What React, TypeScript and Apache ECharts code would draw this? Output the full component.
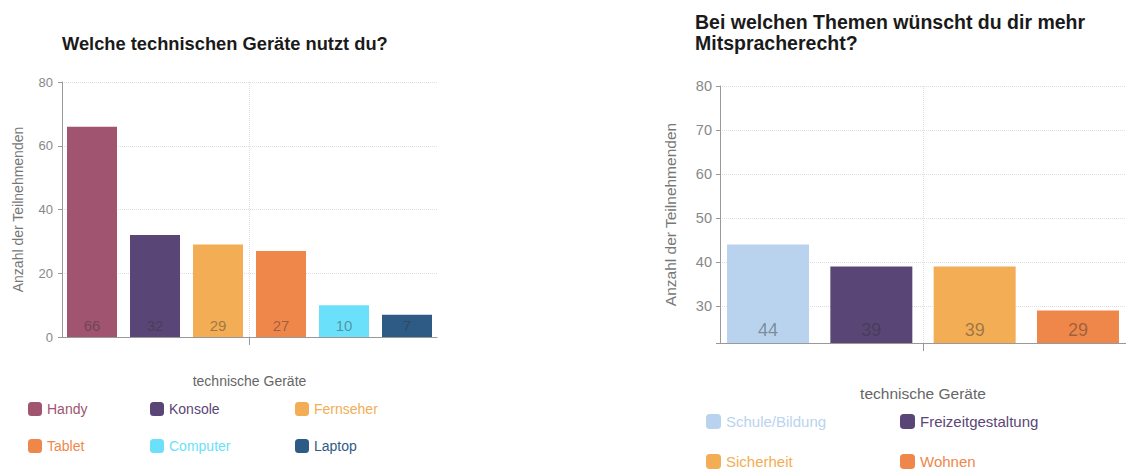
import React, { useEffect, useRef } from 'react';
import * as echarts from 'echarts';

const leftTitle = 'Welche technischen Geräte nutzt du?';
const rightTitle = 'Bei welchen Themen wünscht du dir mehr\nMitspracherecht?';
const axisCategory = 'technische Geräte';
const yAxisName = 'Anzahl der Teilnehmenden';

const deviceNames = ['Handy', 'Konsole', 'Fernseher', 'Tablet', 'Computer', 'Laptop'];
const deviceValues = [66, 32, 29, 27, 10, 7];
const deviceColors = ['#a05470', '#5a4676', '#f2ad55', '#f0874a', '#6ae0fa', '#2e5b85'];

const topicNames = ['Schule/Bildung', 'Freizeitgestaltung', 'Sicherheit', 'Wohnen'];
const topicValues = [44, 39, 39, 29];
const topicColors = ['#b9d3ee', '#5a4676', '#f2ad55', '#f0874a'];

const leftYMin = 0;
const leftYMax = 80;
const leftYInterval = 20;
const rightYMin = 21.6;
const rightYMax = 80;

const FONT = '"Liberation Sans", Arial, Helvetica, sans-serif';
const LABEL_COLOR = 'rgba(50,50,50,0.45)';

export default function App() {
  const ref = useRef<HTMLDivElement>(null);

  useEffect(() => {
    if (!ref.current) return;
    const chart = echarts.init(ref.current, undefined, { renderer: 'svg' });

    const axisLineStyle = { color: '#999999', width: 1 };
    const splitStyle = { type: 'dotted' as const, color: '#dedede', width: 1 };

    const makeSeries = (
      names: string[], values: number[], colors: string[], gi: number,
      barWidth: number, labelSize: number
    ) =>
      names.map((n, i) => ({
        type: 'bar',
        name: n,
        xAxisIndex: gi,
        yAxisIndex: gi,
        data: [values[i]],
        barWidth,
        barGap: '26%',
        itemStyle: { color: colors[i] },
        label: {
          show: true,
          position: 'insideBottom',
          distance: 4,
          color: LABEL_COLOR,
          fontSize: labelSize,
          fontFamily: FONT,
        },
      }));

    const centerLine = (gi: number) => ({
      type: 'line',
      xAxisIndex: gi,
      yAxisIndex: gi,
      data: [],
      silent: true,
      symbol: 'none',
      z: 1,
      markLine: {
        silent: true,
        symbol: 'none',
        label: { show: false },
        lineStyle: { type: 'dotted', color: '#dedede', width: 1 },
        data: [{ xAxis: axisCategory }],
      },
    });

    const legends: any[] = [];
    const leftCols = [28, 150, 295];
    const leftRows = [409, 446];
    deviceNames.forEach((n, i) => {
      legends.push({
        data: [n],
        left: leftCols[i % 3],
        top: leftRows[Math.floor(i / 3)] - 7,
        padding: 0,
        itemWidth: 14,
        itemHeight: 14,
        itemGap: 6,
        icon: 'roundRect',
        selectedMode: false,
        textStyle: { color: deviceColors[i], fontSize: 14, fontFamily: FONT },
      });
    });
    const rightCols = [706, 900];
    const rightRows = [422, 462];
    topicNames.forEach((n, i) => {
      legends.push({
        data: [n],
        left: rightCols[i % 2],
        top: rightRows[Math.floor(i / 2)] - 8,
        padding: 0,
        itemWidth: 15,
        itemHeight: 15,
        itemGap: 6,
        icon: 'roundRect',
        selectedMode: false,
        textStyle: { color: topicColors[i], fontSize: 15, fontFamily: FONT },
      });
    });

    const option: any = {
      animation: false,
      backgroundColor: '#ffffff',
      title: [
        {
          text: leftTitle,
          left: 62,
          top: 34,
          padding: 0,
          textStyle: { fontSize: 18.3, fontWeight: 'bold', color: '#1a1a1a', fontFamily: FONT },
        },
        {
          text: rightTitle,
          left: 695,
          top: 11,
          padding: 0,
          textStyle: { fontSize: 19.5, fontWeight: 'bold', color: '#1a1a1a', fontFamily: FONT, lineHeight: 21 },
        },
      ],
      legend: legends,
      grid: [
        { left: 62, top: 82, width: 375, height: 255, containLabel: false },
        { left: 720, top: 86, width: 412, height: 257, containLabel: false },
      ],
      xAxis: [0, 1].map((gi) => ({
        type: 'category',
        gridIndex: gi,
        data: [axisCategory],
        name: axisCategory,
        nameLocation: 'middle',
        nameGap: gi === 0 ? 37 : 42,
        nameTextStyle: { color: '#666', fontSize: gi === 0 ? 14 : 15.5, fontFamily: FONT },
        axisLine: { show: true, lineStyle: axisLineStyle },
        axisTick: { show: true, alignWithLabel: true, length: 8, lineStyle: axisLineStyle },
        axisLabel: { show: false },
        splitLine: { show: false },
      })),
      yAxis: [
        {
          type: 'value',
          gridIndex: 0,
          min: leftYMin,
          max: leftYMax,
          interval: leftYInterval,
          name: yAxisName,
          nameLocation: 'middle',
          nameGap: 37,
          nameTextStyle: { color: '#777', fontSize: 14, fontFamily: FONT },
          axisLine: { show: true, lineStyle: axisLineStyle },
          axisTick: { show: true, length: 4, lineStyle: axisLineStyle },
          axisLabel: { color: '#888', fontSize: 13, fontFamily: FONT, margin: 9 },
          splitLine: { show: true, lineStyle: splitStyle },
        },
        {
          type: 'value',
          gridIndex: 1,
          min: rightYMin,
          max: rightYMax,
          name: yAxisName,
          nameLocation: 'middle',
          nameGap: 42,
          nameTextStyle: { color: '#777', fontSize: 15.5, fontFamily: FONT },
          axisLine: { show: true, lineStyle: axisLineStyle },
          axisTick: { show: true, length: 4, lineStyle: axisLineStyle },
          axisLabel: {
            color: '#888',
            fontSize: 14.5,
            fontFamily: FONT,
            margin: 8,
            formatter: (v: number) => (Math.abs(v % 10) < 1e-6 ? String(v) : ''),
          },
          splitLine: { show: true, lineStyle: splitStyle },
        },
      ],
      series: [
        centerLine(0),
        centerLine(1),
        ...makeSeries(deviceNames, deviceValues, deviceColors, 0, 50, 15),
        ...makeSeries(topicNames, topicValues, topicColors, 1, 82, 18),
      ],
    };

    chart.setOption(option);
    return () => chart.dispose();
  }, []);

  return (
    <div
      ref={ref}
      style={{ position: 'absolute', left: 0, top: 0, width: 1126, height: 470, background: '#fff' }}
    />
  );
}
